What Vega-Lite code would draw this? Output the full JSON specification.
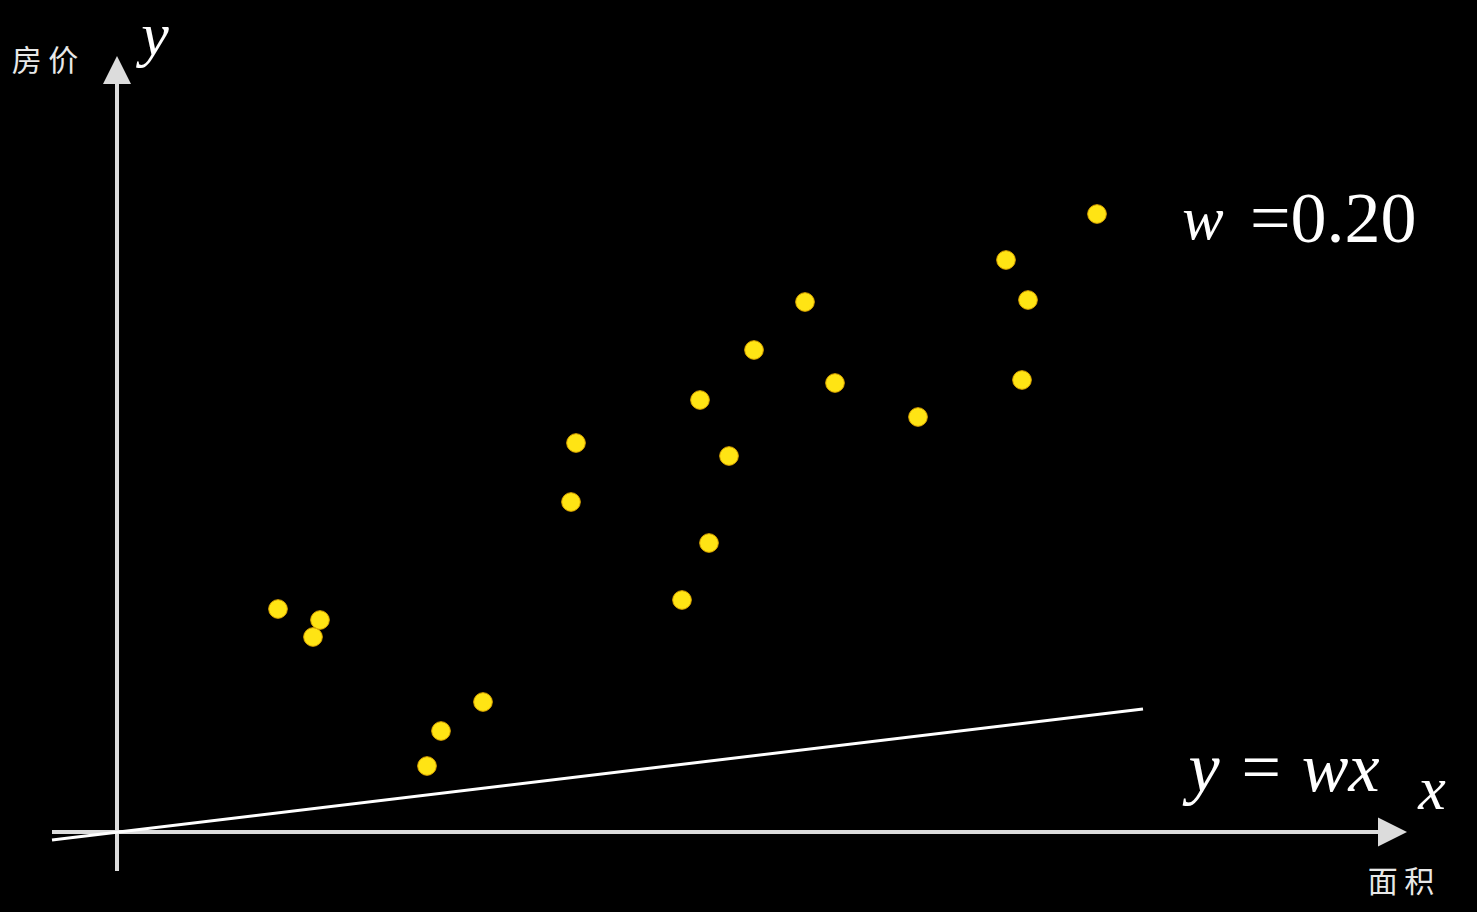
{
  "$schema": "https://vega.github.io/schema/vega-lite/v6.json",
  "width": 1477,
  "height": 912,
  "autosize": {"type": "fit", "contains": "padding"},
  "padding": 0,
  "background": "#000000",
  "config": {"view": {"stroke": null}},
  "datasets": {
    "axes": [
      {"x": -0.65, "y": 0, "x2": 12.65, "y2": 0},
      {"x": 0, "y": -0.39, "x2": 0, "y2": 7.5}
    ],
    "fit": [
      {"x": -0.65, "y": -0.08, "x2": 10.26, "y2": 1.23}
    ],
    "headUp": [{"x": 0, "y": 7.62}],
    "headRight": [{"x": 12.755, "y": 0}],
    "houses": [
      {"x": 1.61, "y": 2.23},
      {"x": 2.03, "y": 2.12},
      {"x": 1.96, "y": 1.95},
      {"x": 3.10, "y": 0.66},
      {"x": 3.24, "y": 1.01},
      {"x": 3.66, "y": 1.30},
      {"x": 4.54, "y": 3.30},
      {"x": 4.59, "y": 3.89},
      {"x": 5.65, "y": 2.32},
      {"x": 5.92, "y": 2.89},
      {"x": 6.12, "y": 3.76},
      {"x": 5.83, "y": 4.32},
      {"x": 6.37, "y": 4.82},
      {"x": 6.88, "y": 5.30},
      {"x": 7.18, "y": 4.49},
      {"x": 8.01, "y": 4.15},
      {"x": 9.05, "y": 4.52},
      {"x": 9.11, "y": 5.32},
      {"x": 8.89, "y": 5.72},
      {"x": 9.80, "y": 6.18}
    ],
    "cjk": [
      {"x": -0.72, "y": 7.70, "label": "房 价"},
      {"x": 12.84, "y": -0.51, "label": "面 积"}
    ],
    "mathItalic": [
      {"x": 0.38, "y": 7.96, "label": "y"},
      {"x": 13.15, "y": 0.42, "label": "x"},
      {"x": 10.86, "y": 6.12, "label": "w"}
    ],
    "formula": [
      {"x": 11.67, "y": 0.62, "label": "y = wx"}
    ],
    "value": [
      {"x": 11.33, "y": 6.12, "label": "=0.20"}
    ]
  },
  "layer": [
    {
      "data": {"name": "axes"},
      "mark": {"type": "rule", "color": "#DCDCDC", "strokeWidth": 4},
      "encoding": {
        "x": {"field": "x", "type": "quantitative", "scale": {"domain": [-1.17, 13.6], "nice": false, "zero": false}, "axis": null},
        "y": {"field": "y", "type": "quantitative", "scale": {"domain": [-0.8, 8.32], "nice": false, "zero": false}, "axis": null},
        "x2": {"field": "x2"},
        "y2": {"field": "y2"}
      }
    },
    {
      "data": {"name": "fit"},
      "mark": {"type": "rule", "color": "#FFFFFF", "strokeWidth": 3},
      "encoding": {
        "x": {"field": "x", "type": "quantitative", "scale": {"domain": [-1.17, 13.6], "nice": false, "zero": false}, "axis": null},
        "y": {"field": "y", "type": "quantitative", "scale": {"domain": [-0.8, 8.32], "nice": false, "zero": false}, "axis": null},
        "x2": {"field": "x2"},
        "y2": {"field": "y2"}
      }
    },
    {
      "data": {"name": "headUp"},
      "mark": {"type": "point", "shape": "M0,-1L1,1L-1,1Z", "filled": true, "color": "#DCDCDC", "opacity": 1, "size": 784},
      "encoding": {
        "x": {"field": "x", "type": "quantitative", "scale": {"domain": [-1.17, 13.6], "nice": false, "zero": false}, "axis": null},
        "y": {"field": "y", "type": "quantitative", "scale": {"domain": [-0.8, 8.32], "nice": false, "zero": false}, "axis": null}
      }
    },
    {
      "data": {"name": "headRight"},
      "mark": {"type": "point", "shape": "M1,0L-1,-1L-1,1Z", "filled": true, "color": "#DCDCDC", "opacity": 1, "size": 841},
      "encoding": {
        "x": {"field": "x", "type": "quantitative", "scale": {"domain": [-1.17, 13.6], "nice": false, "zero": false}, "axis": null},
        "y": {"field": "y", "type": "quantitative", "scale": {"domain": [-0.8, 8.32], "nice": false, "zero": false}, "axis": null}
      }
    },
    {
      "data": {"name": "houses"},
      "mark": {"type": "circle", "fill": "#FFE414", "stroke": "#E0A800", "strokeWidth": 1, "opacity": 1, "size": 346},
      "encoding": {
        "x": {"field": "x", "type": "quantitative", "scale": {"domain": [-1.17, 13.6], "nice": false, "zero": false}, "axis": null},
        "y": {"field": "y", "type": "quantitative", "scale": {"domain": [-0.8, 8.32], "nice": false, "zero": false}, "axis": null}
      }
    },
    {
      "data": {"name": "cjk"},
      "mark": {"type": "text", "font": "Noto Sans CJK SC", "fontSize": 30, "fontWeight": 400, "color": "#E8E8E8", "align": "center", "baseline": "middle"},
      "encoding": {
        "x": {"field": "x", "type": "quantitative", "scale": {"domain": [-1.17, 13.6], "nice": false, "zero": false}, "axis": null},
        "y": {"field": "y", "type": "quantitative", "scale": {"domain": [-0.8, 8.32], "nice": false, "zero": false}, "axis": null},
        "text": {"field": "label"}
      }
    },
    {
      "data": {"name": "mathItalic"},
      "mark": {"type": "text", "font": "Liberation Serif", "fontStyle": "italic", "fontSize": 62, "color": "#FFFFFF", "align": "center", "baseline": "middle"},
      "encoding": {
        "x": {"field": "x", "type": "quantitative", "scale": {"domain": [-1.17, 13.6], "nice": false, "zero": false}, "axis": null},
        "y": {"field": "y", "type": "quantitative", "scale": {"domain": [-0.8, 8.32], "nice": false, "zero": false}, "axis": null},
        "text": {"field": "label"}
      }
    },
    {
      "data": {"name": "formula"},
      "mark": {"type": "text", "font": "Liberation Serif", "fontStyle": "italic", "fontSize": 70, "color": "#FFFFFF", "align": "center", "baseline": "middle"},
      "encoding": {
        "x": {"field": "x", "type": "quantitative", "scale": {"domain": [-1.17, 13.6], "nice": false, "zero": false}, "axis": null},
        "y": {"field": "y", "type": "quantitative", "scale": {"domain": [-0.8, 8.32], "nice": false, "zero": false}, "axis": null},
        "text": {"field": "label"}
      }
    },
    {
      "data": {"name": "value"},
      "mark": {"type": "text", "font": "Liberation Serif", "fontSize": 72, "color": "#FFFFFF", "align": "left", "baseline": "middle"},
      "encoding": {
        "x": {"field": "x", "type": "quantitative", "scale": {"domain": [-1.17, 13.6], "nice": false, "zero": false}, "axis": null},
        "y": {"field": "y", "type": "quantitative", "scale": {"domain": [-0.8, 8.32], "nice": false, "zero": false}, "axis": null},
        "text": {"field": "label"}
      }
    }
  ]
}
